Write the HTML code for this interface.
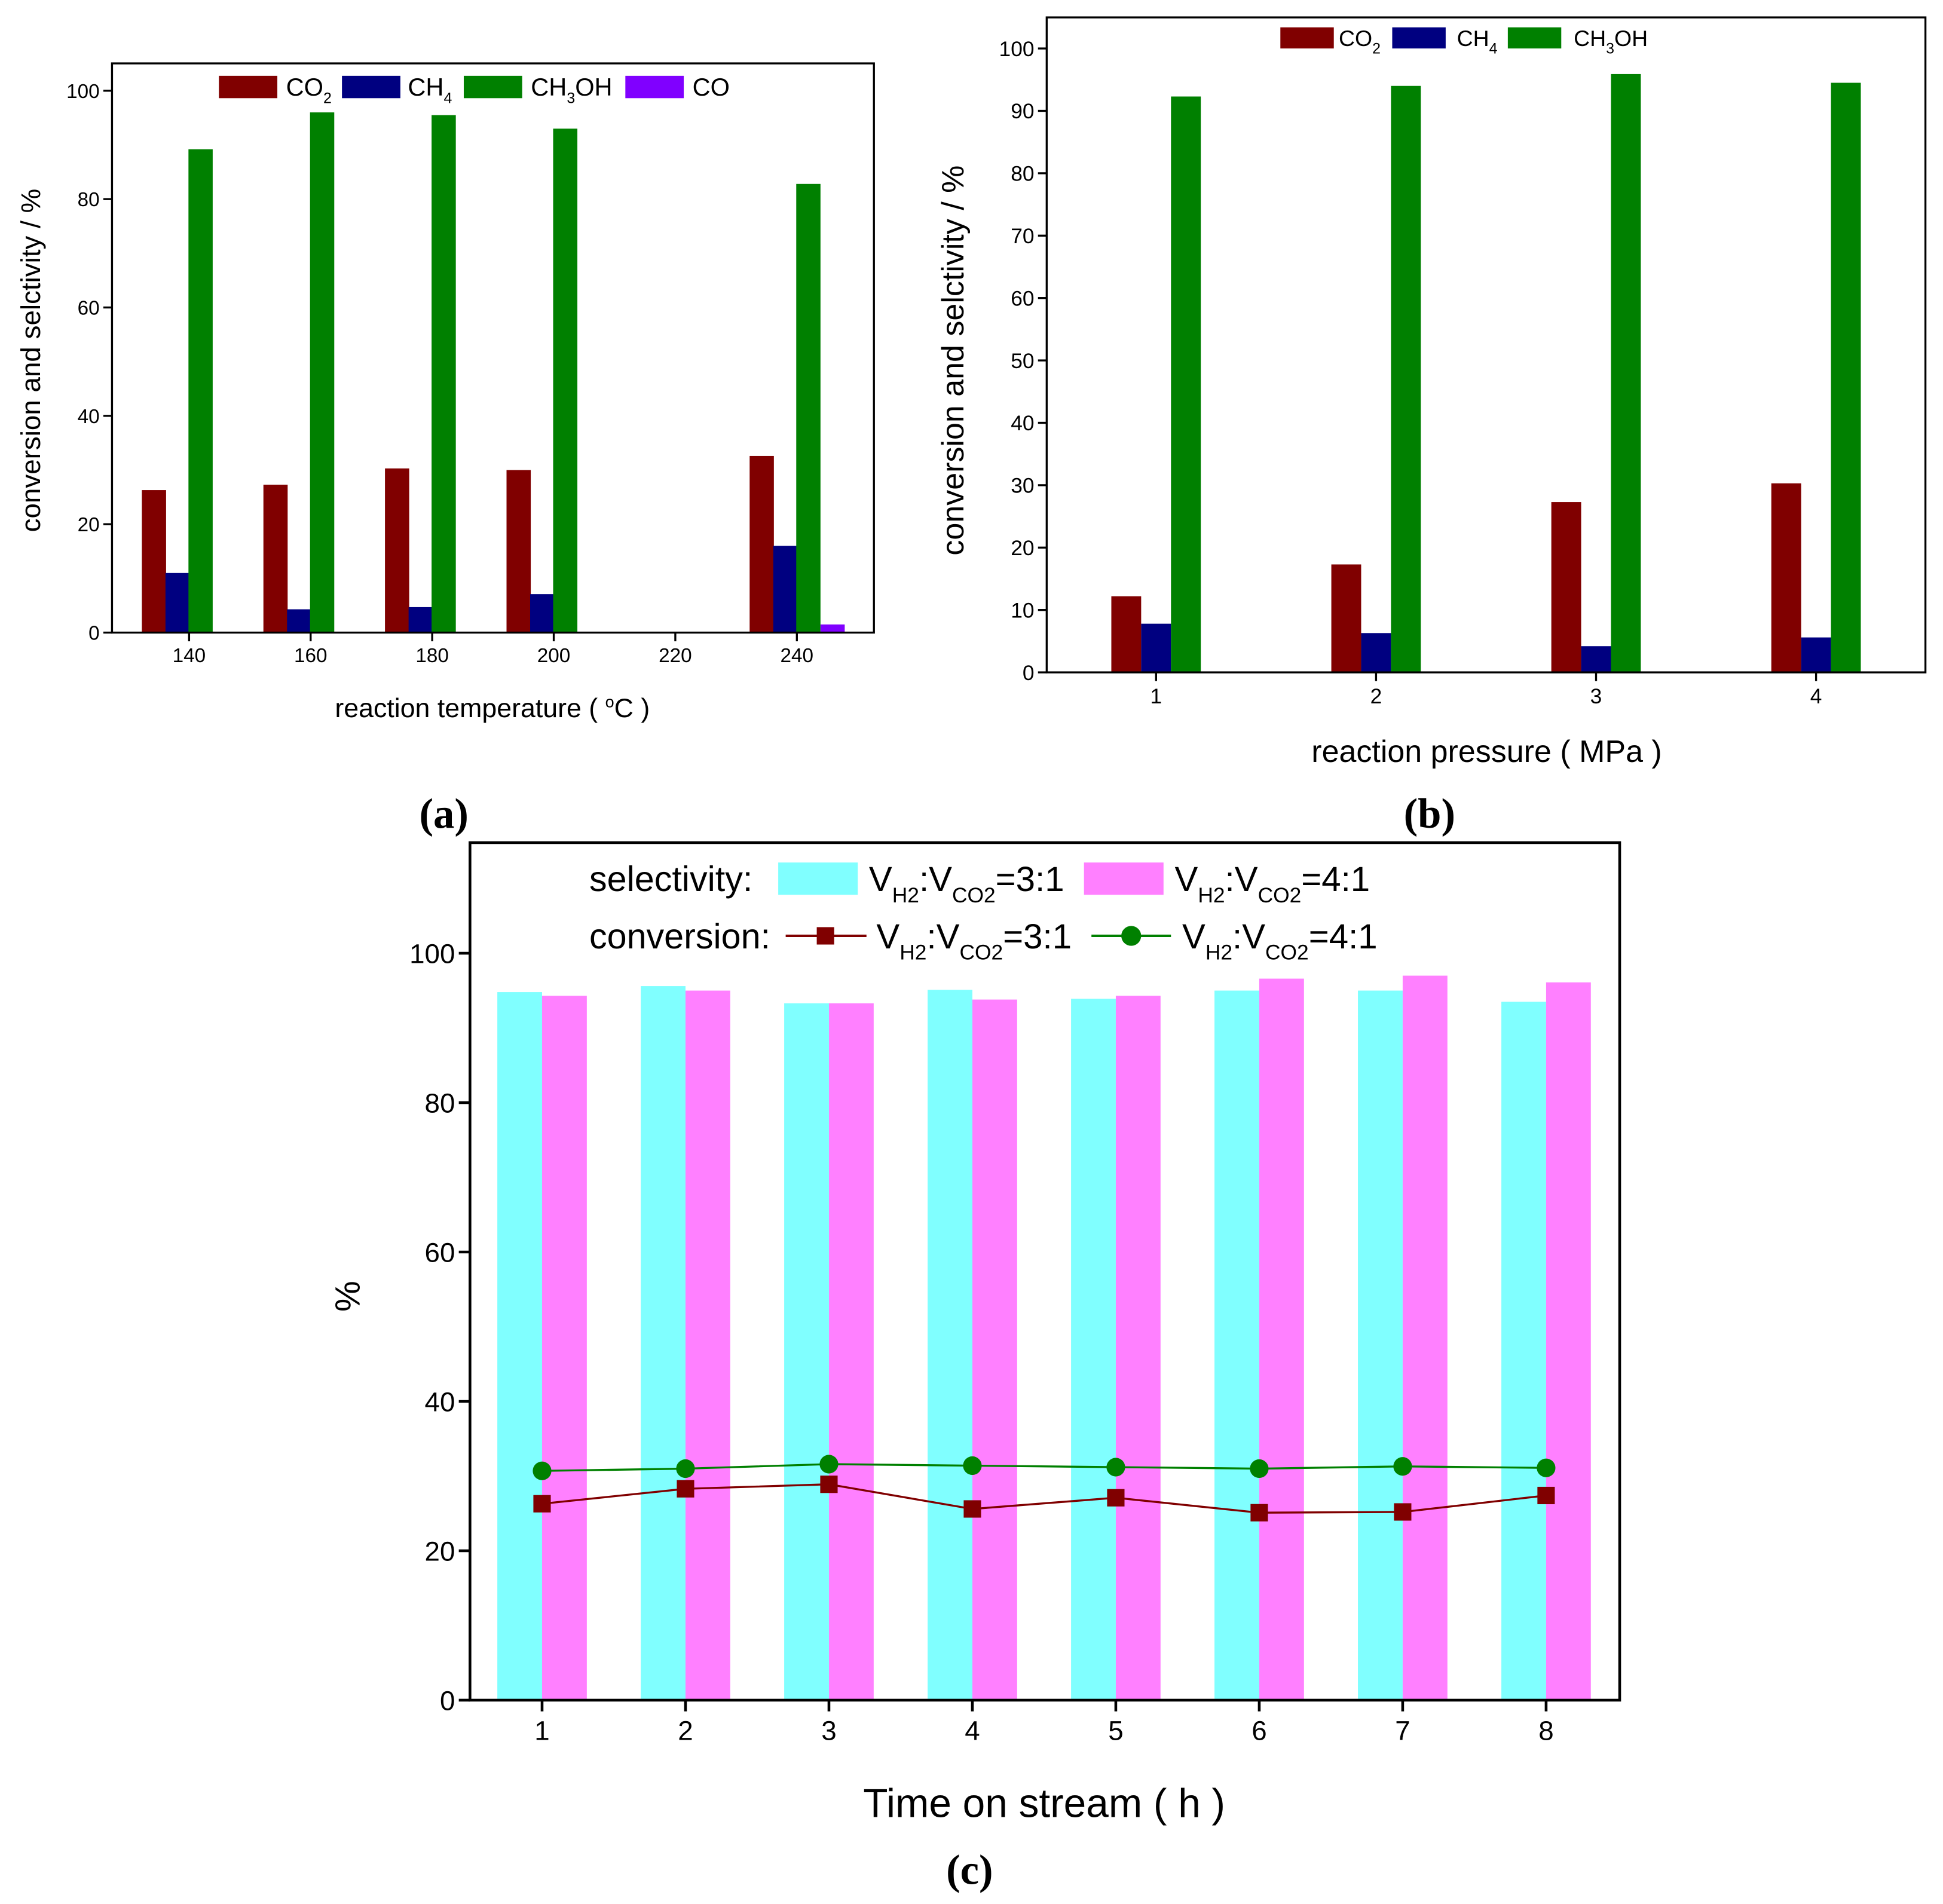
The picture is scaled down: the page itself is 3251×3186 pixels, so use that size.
<!DOCTYPE html>
<html><head><meta charset="utf-8"><style>
html,body{margin:0;padding:0;background:#fff}
svg{display:block}
text{font-family:"Liberation Sans Narrow","Liberation Sans",sans-serif;fill:#000}
.serif{font-family:"Liberation Serif",serif;font-weight:bold}
</style></head><body>
<svg id="fig" width="3251" height="3186" viewBox="0 0 1563 1532" xmlns="http://www.w3.org/2000/svg">
<g id="pa"></g>
<g id="pb"></g>
<g id="pc"></g>
</svg>
<script>
// Panel a data
const aCats = ["140","160","180","200","220","240"];
const aCO2 = [26.3, 27.3, 30.3, 30.0, 0, 32.6];
const aCH4 = [11.0, 4.3, 4.7, 7.1, 0, 16.0];
const aCH3OH = [89.2, 96.0, 95.5, 93.0, 0, 82.8];
const aCO = [0, 0, 0, 0, 0, 1.5];
const aTicks = [0, 20, 40, 60, 80, 100];
// Panel b data
const bCats = ["1","2","3","4"];
const bCO2 = [12.2, 17.3, 27.3, 30.3];
const bCH4 = [7.8, 6.3, 4.2, 5.6];
const bCH3OH = [92.3, 94.0, 95.9, 94.5];
const bTicks = [0,10,20,30,40,50,60,70,80,90,100];
// Panel c data
const cCats = ["1","2","3","4","5","6","7","8"];
const cSel31 = [94.8, 95.6, 93.3, 95.1, 93.9, 95.0, 95.0, 93.5];
const cSel41 = [94.3, 95.0, 93.3, 93.8, 94.3, 96.6, 97.0, 96.1];
const cConv31 = [26.3, 28.3, 28.9, 25.6, 27.1, 25.1, 25.2, 27.4];
const cConv41 = [30.7, 31.0, 31.6, 31.4, 31.2, 31.0, 31.3, 31.1];
const cTicks = [0, 20, 40, 60, 80, 100];

const NS = "http://www.w3.org/2000/svg";
function mk(parent, tag, attrs, txt){
  const e = document.createElementNS(NS, tag);
  for (const k in attrs) e.setAttribute(k, attrs[k]);
  if (txt !== undefined) e.innerHTML = txt;
  parent.appendChild(e);
  return e;
}

function panel(g, o){
  const ys = v => o.y0 - v*(o.y0-o.y100)/100;
  const xs = i => o.x1 + i*o.dx;
  o.series.forEach((s, si) => {
    s.vals.forEach((v, i) => {
      if (v <= 0) return;
      const r = mk(g, "rect", {x: xs(i)+s.off, y: ys(v), width: o.bw, height: o.y0-ys(v), fill: s.color});
      
      
    });
  });
  const f = mk(g, "rect", {x:o.L, y:o.T, width:o.R-o.L, height:o.y0-o.T, fill:"none", stroke:"#000", "stroke-width":o.sw});
  
  
  o.ticks.forEach(t => {
    mk(g, "line", {x1:o.L-o.tl, x2:o.L, y1:ys(t), y2:ys(t), stroke:"#000", "stroke-width":o.sw});
    const tx = mk(g, "text", {x:o.L-o.tl-3, y:ys(t)+o.fs*0.36, "font-size":o.fs, "text-anchor":"end"}, t);
    
    
  });
  o.cats.forEach((c, i) => {
    mk(g, "line", {x1:xs(i), x2:xs(i), y1:o.y0, y2:o.y0+o.tl, stroke:"#000", "stroke-width":o.sw});
    const tx = mk(g, "text", {x:xs(i), y:o.y0+o.tl+o.fs*1.05, "font-size":o.fs, "text-anchor":"middle"}, c);
    
    
  });
  return {xs, ys};
}

// Panel a
const pa = document.getElementById("pa");
panel(pa, {L:90, R:703, T:51, y0:509, y100:73, x1:152, dx:97.8, bw:19.5, sw:1.6, tl:7, fs:16, ticks:aTicks, cats:aCats,
  series:[{key:"co2",vals:aCO2,color:"#800000",off:-38},{key:"ch4",vals:aCH4,color:"#000080",off:-19},
          {key:"ch3oh",vals:aCH3OH,color:"#008000",off:-0.5},{key:"co",vals:aCO,color:"#8000ff",off:19}]});
[["CO<tspan font-size='12' dy='6'>2</tspan>","#800000",176,230],["CH<tspan font-size='12' dy='6'>4</tspan>","#000080",275,328],
 ["CH<tspan font-size='12' dy='6'>3</tspan><tspan dy='-6'>OH</tspan>","#008000",373,427],["CO","#8000ff",503,557]].forEach(l=>{
  const r = mk(pa,"rect",{x:l[2],y:61,width:47,height:18,fill:l[1]});
  
  
  const t = mk(pa,"text",{x:l[3],y:77,"font-size":20},l[0]);
  
  
});
mk(pa,"text",{x:0,y:0,"font-size":22,"text-anchor":"middle",transform:"translate(32,290) rotate(-90)",},"conversion and selctivity / %");
mk(pa,"text",{x:396,y:577,"font-size":21.5,"text-anchor":"middle",},"reaction temperature ( <tspan font-size='13' dy='-8'>o</tspan><tspan dy='8'>C )</tspan>");
mk(pa,"text",{x:357,y:666,"font-size":34,"text-anchor":"middle",class:"serif",},"(a)");

// Panel b
const pb = document.getElementById("pb");
panel(pb, {L:842, R:1549, T:14, y0:541, y100:39, x1:930, dx:177, bw:24, sw:1.6, tl:7, fs:17, ticks:bTicks, cats:bCats,
  series:[{key:"co2",vals:bCO2,color:"#800000",off:-36},{key:"ch4",vals:bCH4,color:"#000080",off:-12},
          {key:"ch3oh",vals:bCH3OH,color:"#008000",off:12}]});
[["CO<tspan font-size='12' dy='6'>2</tspan>","#800000",1030,1077],["CH<tspan font-size='12' dy='6'>4</tspan>","#000080",1120,1172],
 ["CH<tspan font-size='12' dy='6'>3</tspan><tspan dy='-6'>OH</tspan>","#008000",1213,1266]].forEach(l=>{
  const r = mk(pb,"rect",{x:l[2],y:22,width:43,height:17,fill:l[1]});
  
  
  const t = mk(pb,"text",{x:l[3],y:37,"font-size":18},l[0]);
  
  
});
mk(pb,"text",{x:0,y:0,"font-size":25,"text-anchor":"middle",transform:"translate(775,290) rotate(-90)",},"conversion and selctivity / %");
mk(pb,"text",{x:1196,y:613,"font-size":25,"text-anchor":"middle",},"reaction pressure ( MPa )");
mk(pb,"text",{x:1150,y:666,"font-size":34,"text-anchor":"middle",class:"serif",},"(b)");

// Panel c
const pc = document.getElementById("pc");
const sc = panel(pc, {L:378, R:1303, T:678, y0:1368, y100:767, x1:436, dx:115.4, bw:36, sw:2.2, tl:9, fs:22, ticks:cTicks, cats:cCats,
  series:[{key:"sel31",vals:cSel31,color:"#80ffff",off:-36},{key:"sel41",vals:cSel41,color:"#ff80ff",off:0}]});
function line(vals, color, key, marker){
  const pts = vals.map((v,i)=>sc.xs(i)+","+sc.ys(v)).join(" ");
  const pl = mk(pc,"polyline",{points:pts,fill:"none",stroke:color,"stroke-width":1.6});
  
  
  vals.forEach((v,i)=>{
    const m = marker==="sq" ? mk(pc,"rect",{x:sc.xs(i)-7,y:sc.ys(v)-7,width:14,height:14,fill:color})
                           : mk(pc,"circle",{cx:sc.xs(i),cy:sc.ys(v),r:7.5,fill:color});
    
    
  });
}
line(cConv41,"#008000","conv41","ci");
line(cConv31,"#800000","conv31","sq");
const sub = (a,b)=>"V<tspan font-size='17' dy='9'>H2</tspan><tspan dy='-9'>:V</tspan><tspan font-size='17' dy='9'>CO2</tspan><tspan dy='-9'>="+a+":"+b+"</tspan>";
mk(pc,"text",{x:474,y:717,"font-size":28.5,},"selectivity:");
mk(pc,"rect",{x:626,y:694,width:64,height:26,fill:"#80ffff",});
mk(pc,"text",{x:699,y:717,"font-size":28,},sub(3,1));
mk(pc,"rect",{x:872,y:694,width:64,height:26,fill:"#ff80ff",});
mk(pc,"text",{x:945,y:717,"font-size":28,},sub(4,1));
mk(pc,"text",{x:474,y:763,"font-size":28.5,},"conversion:");
mk(pc,"line",{x1:632,x2:697,y1:753,y2:753,stroke:"#800000","stroke-width":2,});
mk(pc,"rect",{x:657,y:746,width:14,height:14,fill:"#800000",});
mk(pc,"text",{x:705,y:763,"font-size":28,},sub(3,1));
mk(pc,"line",{x1:878,x2:942,y1:753,y2:753,stroke:"#008000","stroke-width":2,});
mk(pc,"circle",{cx:910,cy:753,r:8,fill:"#008000",});
mk(pc,"text",{x:951,y:763,"font-size":28,},sub(4,1));
mk(pc,"text",{x:0,y:0,"font-size":28,"text-anchor":"middle",transform:"translate(289,1043) rotate(-90)",},"%");
mk(pc,"text",{x:840,y:1462,"font-size":32.5,"text-anchor":"middle",},"Time on stream ( h )");
mk(pc,"text",{x:780,y:1516,"font-size":34,"text-anchor":"middle",class:"serif",},"(c)");
</script>
</body></html>
